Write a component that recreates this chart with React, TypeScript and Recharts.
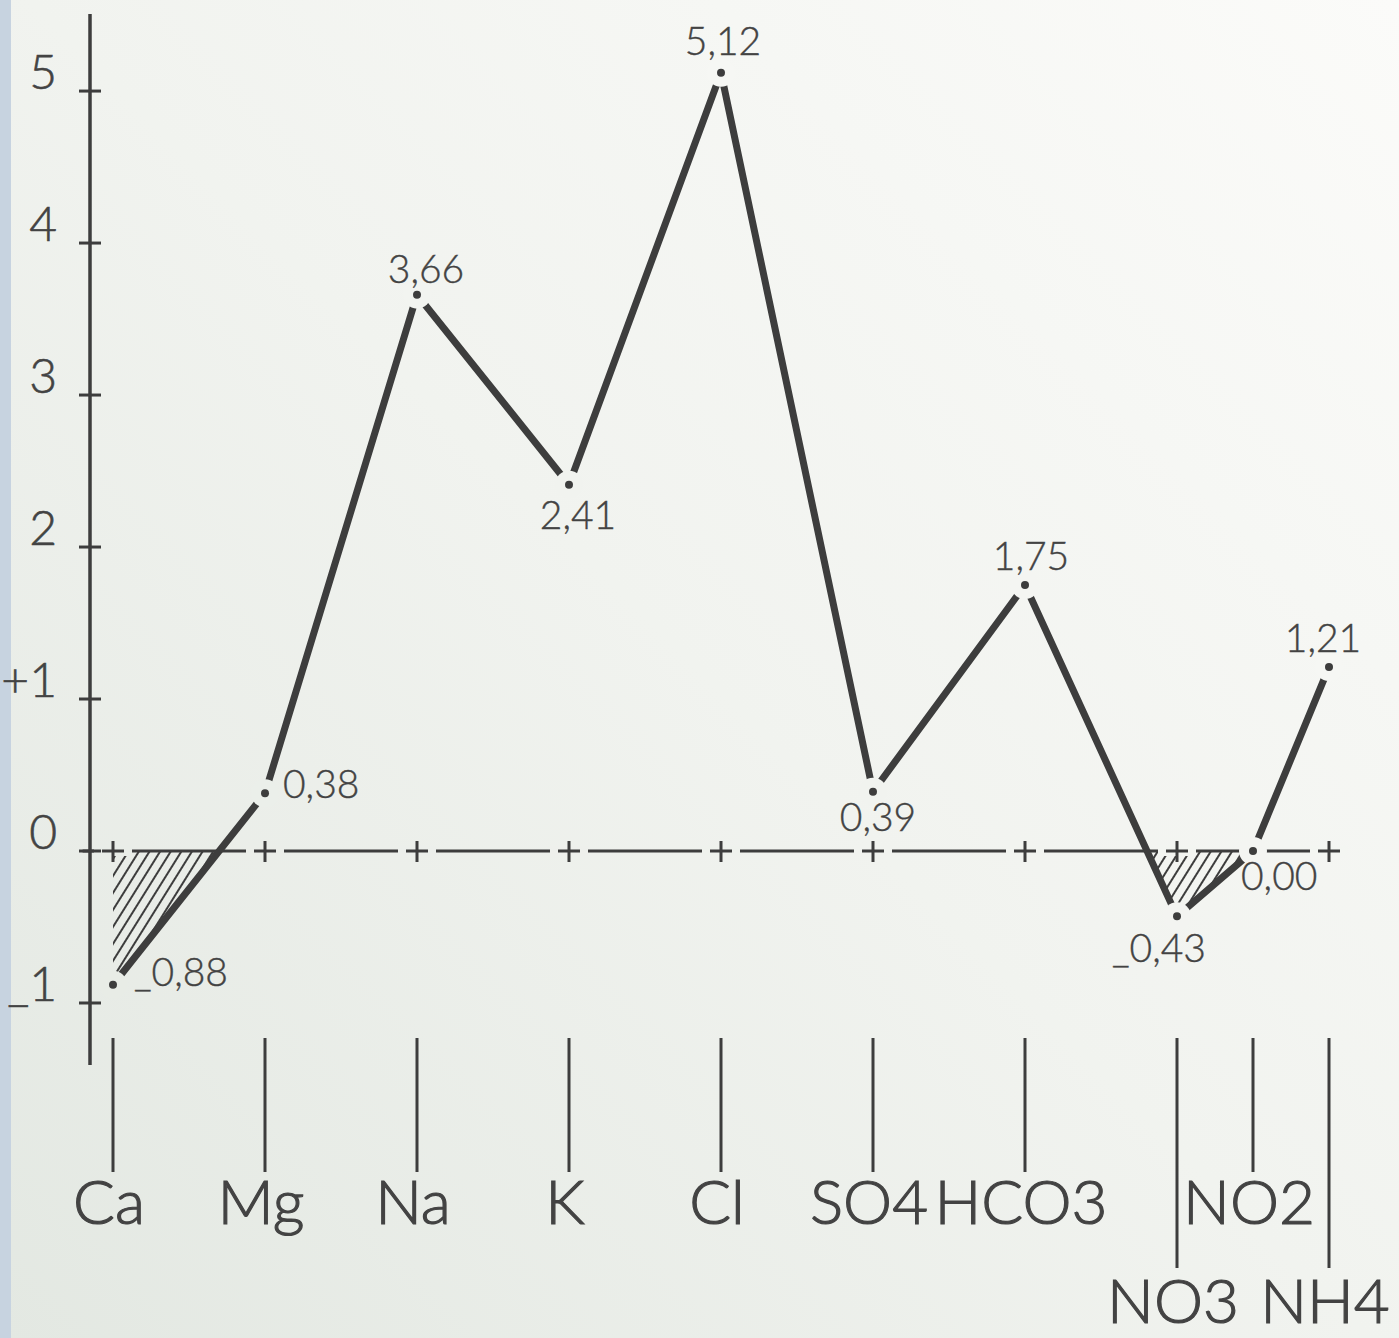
import React from 'react';
import {
  ComposedChart,
  Line,
  Area,
  Scatter,
  XAxis,
  YAxis,
  ReferenceLine,
  ReferenceDot,
  LabelList,
} from 'recharts';

// ---------- data ----------
const IONS = ['Ca', 'Mg', 'Na', 'K', 'Cl', 'SO4', 'HCO3', 'NO3', 'NO2', 'NH4'];
const ION_POSITIONS = [0, 1, 2, 3, 4, 5, 6, 7, 7.5, 8];
const ION_VALUES = [-0.88, 0.38, 3.66, 2.41, 5.12, 0.39, 1.75, -0.43, 0.0, 1.21];
const Y_TICKS = [-1, 0, 1, 2, 3, 4, 5];
const Y_TICK_LABELS = ['_1', '0', '+1', '2', '3', '4', '5'];
const LOWER_ROW_IONS = ['NO3', 'NH4'];
const ZERO_MARK_IONS = ['Ca', 'Mg', 'Na', 'K', 'Cl', 'SO4', 'HCO3', 'NO3', 'NH4'];

const chartData = IONS.map((ion, i) => ({
  ion,
  pos: ION_POSITIONS[i],
  value: ION_VALUES[i],
  cover: Math.max(ION_VALUES[i], 0),
}));

// ---------- styles ----------
const W = 1399;
const H = 1338;
const INK = '#3d3d3d';
const TEXT_INK = '#434343';
const FONT = 'Lato, "Open Sans", "DejaVu Sans", sans-serif';
const PAPER_STOPS = [
  { o: 0, c: [0xfb, 0xfb, 0xf9] },
  { o: 0.5, c: [0xf1, 0xf3, 0xef] },
  { o: 1, c: [0xe3, 0xe8, 0xe2] },
];
const hex = (c: number[]) => '#' + c.map((v) => Math.round(v).toString(16).padStart(2, '0')).join('');
const CSS_BG = `linear-gradient(225deg, ${PAPER_STOPS.map((s) => `${hex(s.c)} ${s.o * 100}%`).join(', ')})`;
const G_START = [1383.7, -15.2];
const G_END = [15.3, 1353.2];

// colour of the paper gradient at a page point (for the halos round the dots)
const paperAt = (x: number, y: number) => {
  const dx = G_END[0] - G_START[0];
  const dy = G_END[1] - G_START[1];
  let t = ((x - G_START[0]) * dx + (y - G_START[1]) * dy) / (dx * dx + dy * dy);
  t = Math.max(0, Math.min(1, t));
  for (let i = 0; i < PAPER_STOPS.length - 1; i++) {
    const a = PAPER_STOPS[i];
    const b = PAPER_STOPS[i + 1];
    if (t <= b.o) {
      const k = (t - a.o) / (b.o - a.o);
      return hex(a.c.map((v, j) => v + (b.c[j] - v) * k));
    }
  }
  return hex(PAPER_STOPS[PAPER_STOPS.length - 1].c);
};

// label placement per point (dx, dy relative to the point, anchor)
const LABEL_LAYOUT = [
  { dx: 21, dy: 1, anchor: 'start' },
  { dx: 18, dy: 5, anchor: 'start' },
  { dx: 9, dy: -12, anchor: 'middle' },
  { dx: 9, dy: 44, anchor: 'middle' },
  { dx: 2, dy: -18, anchor: 'middle' },
  { dx: 5, dy: 39, anchor: 'middle' },
  { dx: 6, dy: -15, anchor: 'middle' },
  { dx: -18, dy: 46, anchor: 'middle' },
  { dx: -12, dy: 39, anchor: 'start' },
  { dx: -6, dy: -15, anchor: 'middle' },
];

const fmt = (v: number) => {
  const s = Math.abs(v).toFixed(2).replace('.', ',');
  return v < 0 ? '_' + s : s;
};

const HaloDot = (props: any) => {
  const { cx, cy } = props;
  if (cx == null || cy == null) return <g />;
  return (
    <g>
      <circle cx={cx} cy={cy} r={14} fill={paperAt(cx, cy)} />
      <circle cx={cx} cy={cy} r={4} fill={INK} />
    </g>
  );
};

const ValueLabel = (props: any) => {
  const { x, y, width, height, value, index } = props;
  const l = LABEL_LAYOUT[index] || { dx: 0, dy: -15, anchor: 'middle' };
  const px = x + (width || 0) / 2;
  const py = y + (height || 0) / 2;
  return (
    <text
      x={px + l.dx}
      y={py + l.dy}
      textAnchor={l.anchor}
      fontFamily={FONT}
      fontWeight={300}
      fontSize={39}
      fill={TEXT_INK}
      stroke={TEXT_INK}
      strokeWidth={0.4}
    >
      {fmt(Number(value))}
    </text>
  );
};

const YTick = (props: any) => {
  const { x, y, payload } = props;
  const i = Y_TICKS.indexOf(payload.value);
  return (
    <g>
      <line x1={x - 11} x2={x + 11} y1={y} y2={y} stroke={INK} strokeWidth={3} />
      <text
        x={x - 33}
        y={y - 2}
        textAnchor="end"
        fontFamily={FONT}
        fontWeight={300}
        fontSize={48}
        fill={TEXT_INK}
        stroke={TEXT_INK}
        strokeWidth={0.6}
      >
        {Y_TICK_LABELS[i]}
      </text>
    </g>
  );
};

const XTick = (props: any) => {
  const { x, y, payload } = props;
  const i = ION_POSITIONS.indexOf(payload.value);
  const ion = IONS[i];
  const low = LOWER_ROW_IONS.includes(ion);
  return (
    <g>
      <line x1={x} x2={x} y1={y - 27} y2={y + (low ? 203 : 107)} stroke={INK} strokeWidth={3} />
      <text
        x={x - 4}
        y={y + (low ? 258 : 159)}
        textAnchor="middle"
        fontFamily={FONT}
        fontWeight={300}
        fontSize={62}
        fill={TEXT_INK}
        stroke={TEXT_INK}
        strokeWidth={1.2}
      >
        {ion}
      </text>
    </g>
  );
};

const PlusMark = (props: any) => {
  const { cx, cy } = props;
  if (cx == null || cy == null) return null;
  return (
    <g>
      <rect x={cx - 19} y={cy - 5} width={38} height={10} fill={paperAt(cx, cy)} />
      <line x1={cx - 11} x2={cx + 11} y1={cy} y2={cy} stroke={INK} strokeWidth={3} />
      <line x1={cx} x2={cx} y1={cy - 10} y2={cy + 11} stroke={INK} strokeWidth={3} />
    </g>
  );
};

export default function App() {
  return (
    <div
      style={{
        position: 'absolute',
        left: 0,
        top: 0,
        width: W,
        height: H,
        background: CSS_BG,
        overflow: 'hidden',
      }}
    >
      <div
        style={{ position: 'absolute', left: 0, top: 0, width: 11, height: H, background: '#c7d3e0' }}
      />
      <ComposedChart
        width={W}
        height={H}
        data={chartData}
        margin={{ top: 14, right: 0, bottom: 0, left: 0 }}
      >
        <defs>
          <linearGradient
            id="paperGrad"
            gradientUnits="userSpaceOnUse"
            x1={G_START[0]}
            y1={G_START[1]}
            x2={G_END[0]}
            y2={G_END[1]}
          >
            {PAPER_STOPS.map((s) => (
              <stop key={s.o} offset={s.o} stopColor={hex(s.c)} />
            ))}
          </linearGradient>
          <pattern
            id="hatch"
            patternUnits="userSpaceOnUse"
            width={9}
            height={9}
            patternTransform="rotate(32)"
          >
            <line x1={2} y1={0} x2={2} y2={9} stroke={INK} strokeWidth={2} />
          </pattern>
        </defs>
        <XAxis
          dataKey="pos"
          type="number"
          domain={[-0.151316, 8.460526]}
          allowDataOverflow
          ticks={ION_POSITIONS}
          interval={0}
          axisLine={false}
          tickLine={false}
          tickSize={0}
          tickMargin={0}
          height={273}
          tick={<XTick />}
        />
        <YAxis
          type="number"
          domain={[-1.408, 5.507]}
          allowDataOverflow
          ticks={Y_TICKS}
          interval={0}
          width={90}
          axisLine={{ stroke: INK, strokeWidth: 3.5 }}
          tickLine={false}
          tickSize={0}
          tickMargin={0}
          tick={<YTick />}
        />
        <Area
          type="linear"
          dataKey="value"
          baseValue={0}
          stroke="none"
          fill="url(#hatch)"
          fillOpacity={1}
          isAnimationActive={false}
          activeDot={false}
        />
        <Area
          type="linear"
          dataKey="cover"
          baseValue={0}
          stroke="url(#paperGrad)"
          strokeWidth={2}
          fill="url(#paperGrad)"
          fillOpacity={1}
          isAnimationActive={false}
          activeDot={false}
        />
        <ReferenceLine
          segment={[
            { x: -0.2, y: 0 },
            { x: 8.07, y: 0 },
          ]}
          stroke={INK}
          strokeWidth={3}
          ifOverflow="visible"
        />
        {ZERO_MARK_IONS.map((ion) => (
          <ReferenceDot
            key={ion}
            x={ION_POSITIONS[IONS.indexOf(ion)]}
            y={0}
            r={1}
            ifOverflow="visible"
            shape={(p: any) => <PlusMark {...p} />}
          />
        ))}
        <Line
          type="linear"
          dataKey="value"
          stroke={INK}
          strokeWidth={7}
          strokeLinecap="round"
          strokeLinejoin="round"
          dot={false}
          activeDot={false}
          isAnimationActive={false}
        />
        <Scatter
          dataKey="value"
          shape={(p: any) => <HaloDot {...p} />}
          isAnimationActive={false}
        >
          <LabelList dataKey="value" content={<ValueLabel />} />
        </Scatter>
      </ComposedChart>
    </div>
  );
}
